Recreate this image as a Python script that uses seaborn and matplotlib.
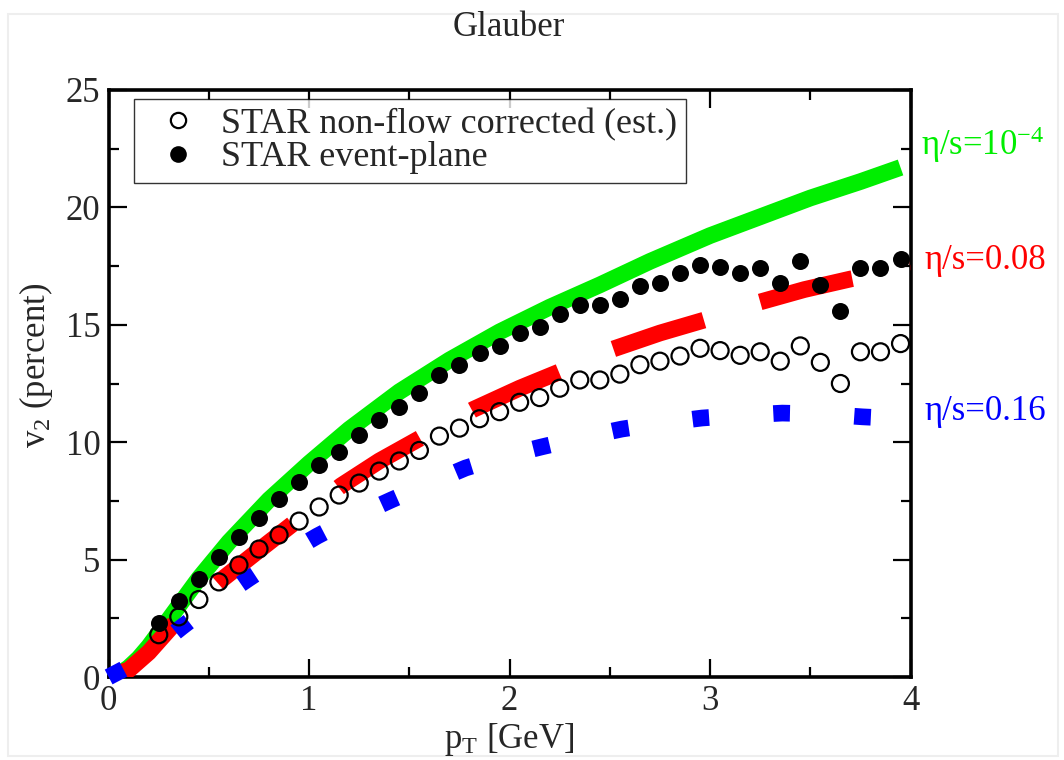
import matplotlib
matplotlib.use("Agg")
import matplotlib.pyplot as plt
import seaborn as sns
import pandas as pd
from matplotlib.lines import Line2D
from matplotlib.patches import Rectangle

# STAR data, pT [GeV] vs v2 [percent]
pt_star = [0.25, 0.35, 0.45, 0.55, 0.65, 0.75, 0.85, 0.95, 1.05, 1.15,
           1.25, 1.35, 1.45, 1.55, 1.65, 1.75, 1.85, 1.95, 2.05, 2.15,
           2.25, 2.35, 2.45, 2.55, 2.65, 2.75, 2.85, 2.95, 3.05, 3.15,
           3.25, 3.35, 3.45, 3.55, 3.65, 3.75, 3.85, 3.95]
v2_nonflow = [1.8, 2.56, 3.3, 4.05, 4.77, 5.45, 6.05, 6.64, 7.24, 7.75,
              8.26, 8.77, 9.2, 9.65, 10.26, 10.6, 11.0, 11.3, 11.7, 11.9,
              12.3, 12.65, 12.65, 12.9, 13.3, 13.45, 13.67, 14.0, 13.9, 13.7,
              13.85, 13.45, 14.1, 13.4, 12.5, 13.85, 13.85, 14.2]
v2_eventplane = [2.3, 3.24, 4.17, 5.1, 5.96, 6.77, 7.58, 8.3, 9.03, 9.6,
                 10.3, 10.95, 11.5, 12.1, 12.85, 13.3, 13.8, 14.1, 14.65, 14.9,
                 15.45, 15.85, 15.85, 16.1, 16.65, 16.8, 17.2, 17.55, 17.45, 17.2,
                 17.4, 16.8, 17.7, 16.7, 15.6, 17.4, 17.4, 17.8]

# hydro curves (Glauber initial conditions)
pt_ideal = [0, 0.05, 0.1, 0.15, 0.2, 0.3, 0.45, 0.6, 0.8, 1.0, 1.2, 1.45, 1.7,
            1.95, 2.2, 2.45, 2.7, 3.0, 3.25, 3.5, 3.75, 3.95]
v2_ideal = [0, 0.1, 0.4, 0.8, 1.3, 2.45, 4.2, 5.75, 7.55, 9.1, 10.55, 12.15, 13.5,
            14.7, 15.75, 16.7, 17.7, 18.8, 19.6, 20.4, 21.1, 21.7]

pt_008 = [0, 0.1, 0.2, 0.33, 0.45, 0.55, 0.75, 0.93, 1.16, 1.35, 1.56, 1.82,
          2.05, 2.25, 2.51, 2.75, 2.97, 3.24, 3.47, 3.7, 4.0]
v2_008 = [0, 0.3, 1.05, 2.3, 3.3, 4.05, 5.4, 6.6, 8.15, 9.2, 10.2, 11.4,
          12.3, 13.0, 13.95, 14.65, 15.2, 15.95, 16.5, 16.95, 17.45]

pt_016 = [0, 0.1, 0.2, 0.365, 0.52, 0.7, 0.87, 1.04, 1.22, 1.41, 1.6, 1.78,
          1.97, 2.16, 2.36, 2.56, 2.76, 2.96, 3.16, 3.36, 3.56, 3.76, 3.95]
v2_016 = [0, 0.45, 1.0, 2.13, 3.15, 4.2, 5.15, 6.0, 6.8, 7.54, 8.25, 8.9,
          9.4, 9.8, 10.2, 10.56, 10.82, 11.03, 11.15, 11.24, 11.2, 11.08, 11.0]

sns.set_style("ticks")
plt.rcParams['font.family'] = ['Liberation Serif', 'DejaVu Serif']
plt.rcParams['mathtext.fontset'] = 'custom'
plt.rcParams['mathtext.rm'] = 'Liberation Serif'
plt.rcParams['mathtext.it'] = 'Liberation Serif:italic'
plt.rcParams['font.size'] = 25

fig = plt.figure(figsize=(10.64, 7.6), dpi=100)
ax = fig.add_axes([0.1021, 1 - 677 / 760, 0.8558 - 0.1021, (677 - 90) / 760])

lw = 12
sns.lineplot(x=pt_ideal, y=v2_ideal, ax=ax, color='#00ee00', linewidth=lw,
             sort=False, estimator=None, solid_capstyle='butt', zorder=2)
sns.lineplot(x=pt_008, y=v2_008, ax=ax, color='#ff0000', linewidth=lw,
             sort=False, estimator=None, linestyle=(0.5, (5.7, 3.55)),
             dash_capstyle='butt', zorder=3)
sns.lineplot(x=pt_016, y=v2_016, ax=ax, color='#0000ff', linewidth=lw,
             sort=False, estimator=None, linestyle=(0, (1.0, 3.86)),
             dash_capstyle='butt', zorder=4, clip_on=False)

sns.scatterplot(x=pt_star, y=v2_nonflow, ax=ax, marker='o', s=150,
                facecolors='none', edgecolors='black', linewidth=1.6, zorder=5)
sns.scatterplot(x=pt_star, y=v2_eventplane, ax=ax, marker='o', s=150,
                color='black', edgecolor='black', linewidth=0, zorder=6)

ax.set_xlim(0, 4)
ax.set_ylim(0, 25)
ax.set_xticks([0, 1, 2, 3, 4])
ax.set_xticks([0.5, 1.5, 2.5, 3.5], minor=True)
ax.set_yticks([0, 5, 10, 15, 20, 25])
ax.set_yticks([2.5, 7.5, 12.5, 17.5, 22.5], minor=True)
ax.tick_params(which='both', direction='in', top=True, right=True,
               width=1.6, labelsize=25, color='black')
ax.tick_params(which='major', length=13, pad=6)
ax.tick_params(which='minor', length=7)
for sp in ax.spines.values():
    sp.set_linewidth(2.6)
    sp.set_color('black')
    sp.set_visible(True)
ax.set_xlabel('')
ax.set_ylabel('')

handles = [
    Line2D([], [], ls='none', marker='o', ms=11, mfc='none', mec='black', mew=1.6),
    Line2D([], [], ls='none', marker='o', ms=12, mfc='black', mec='black', mew=0),
]
leg = ax.legend(handles, ['STAR non-flow corrected (est.)', 'STAR event-plane'],
                loc='upper left', bbox_to_anchor=(0.032, 0.985), borderaxespad=0,
                frameon=True, fancybox=False, fontsize=26, labelspacing=0.0,
                borderpad=0.25, handlelength=1.9, handletextpad=0.25)
leg.get_frame().set_edgecolor('black')
leg.get_frame().set_linewidth(1.0)

# curve labels to the right of the frame
ax.text(4.05, 22.23, r'η/s=10$^{\mathregular{-4}}$', color='#00ee00', fontsize=25,
        va='baseline', ha='left', clip_on=False)
ax.text(4.07, 17.38, 'η/s=0.08', color='#ff0000', fontsize=25,
        va='baseline', ha='left', clip_on=False)
ax.text(4.07, 10.94, 'η/s=0.16', color='#0000ff', fontsize=25,
        va='baseline', ha='left', clip_on=False)

fig.text(509 / 1064, 1 - 27 / 760, 'Glauber', ha='center', va='center', fontsize=25)
fig.text(36 / 1064, 1 - 365 / 760, r'v$_{\mathregular{2}}$ (percent)', rotation=90,
         ha='center', va='center', fontsize=25)
fig.text(509 / 1064, 1 - 739 / 760, r'p$_{\mathregular{T}}$ [GeV]', ha='center',
         va='center', fontsize=25)

fig.patches.append(Rectangle((8 / 1064, 4 / 760), 1050 / 1064, 742 / 760,
                             transform=fig.transFigure, fill=False,
                             edgecolor='#eeeeee', linewidth=1.5))

fig.savefig('out.png', dpi=100)
